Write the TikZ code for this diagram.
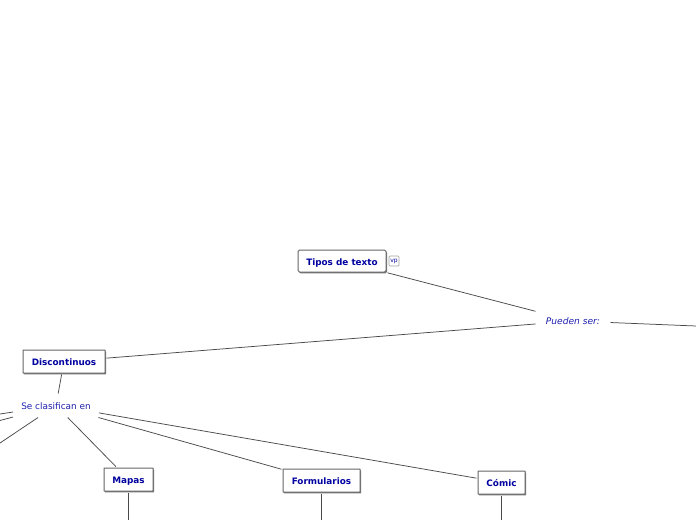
\documentclass[tikz,border=0pt]{standalone}
\usepackage{fontspec}
\setmainfont{DejaVu Sans}
\usetikzlibrary{shadows}
\definecolor{inktext}{HTML}{0000A0}
\definecolor{softtext}{HTML}{2020B0}
\definecolor{linkline}{HTML}{4A4A4A}
\definecolor{boxedge}{HTML}{666666}
\tikzset{
  x=1pt,y=-1pt,
  boxnode/.style={draw=boxedge,line width=1pt,fill=white,inner sep=0pt,outer sep=1.5pt,text=inktext,
    rounded corners=0.4pt,
    text height=8.5pt,text depth=0pt,
    font=\fontsize{8.85}{11}\selectfont\bfseries,
    drop shadow={shadow xshift=1pt,shadow yshift=-1.4pt,opacity=0.65,fill=black!80}},
  plainnode/.style={inner sep=0pt,outer sep=0pt,text=softtext,minimum width=86pt,minimum height=24pt,
    text height=7pt,text depth=0pt,font=\fontsize{8.9}{11}\selectfont},
  linkline/.style={draw=linkline,line width=0.75pt},
  iconnode/.style={draw=boxedge!60,line width=0.7pt,rounded corners=1pt,fill=white,inner sep=0pt,minimum width=10pt,minimum height=10pt,text=inktext,font=\fontsize{6}{6}\selectfont}
}
\begin{document}
\begin{tikzpicture}
\useasboundingbox (0,0) rectangle (696,520);
\clip (0,0) rectangle (696,520);
\fill[white] (0,0) rectangle (696,520);
\node[boxnode,rounded corners=1.5pt,minimum width=88pt,minimum height=22pt] (tipos) at (342,261) {Tipos de texto};
\node[iconnode] (vp) at (394,261) {vp};
\node[plainnode,minimum width=75pt,minimum height=20pt,font=\fontsize{9.1}{11}\selectfont\itshape] (pueden) at (573,321) {Pueden ser:};
\node[boxnode,minimum width=82pt,minimum height=23pt] (disc) at (64,361.5) {Discontinuos};
\node[plainnode] (clasif) at (56,405.5) {Se clasifican en};
\node[boxnode,minimum width=49pt,minimum height=23pt] (mapas) at (128.5,479.5) {Mapas};
\node[boxnode,minimum width=77pt,minimum height=23pt] (form) at (321.5,480.5) {Formularios};
\node[boxnode,minimum width=47pt,minimum height=23pt] (comic) at (501.5,482.5) {Cómic};
\coordinate (endright) at (696,326);
\coordinate (endleftA) at (0,414);
\coordinate (endleftB) at (0,420.5);
\coordinate (endleftC) at (0,443);
\coordinate (endmapas) at (128.5,520);
\coordinate (endform) at (321.5,520);
\coordinate (endcomic) at (501.5,520);
\draw[linkline] (tipos) -- (pueden);
\draw[linkline] (disc) -- (pueden);
\draw[linkline] (pueden) -- (endright);
\draw[linkline] (disc) -- (clasif);
\draw[linkline] (clasif) -- (endleftA);
\draw[linkline] (clasif) -- (endleftB);
\draw[linkline] (clasif) -- (endleftC);
\draw[linkline] (clasif) -- (mapas);
\draw[linkline] (clasif) -- (form);
\draw[linkline] (clasif) -- (comic);
\draw[linkline] (mapas) -- (endmapas);
\draw[linkline] (form) -- (endform);
\draw[linkline] (comic) -- (endcomic);
\end{tikzpicture}
\end{document}
